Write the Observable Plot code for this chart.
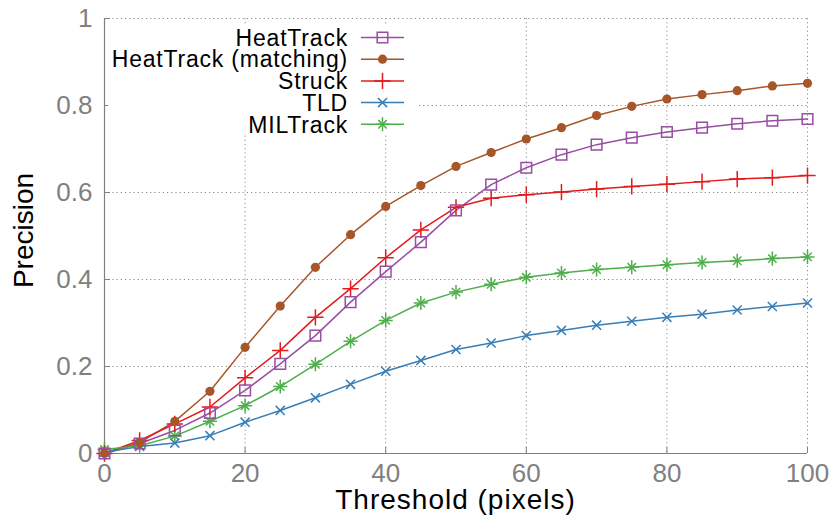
<!DOCTYPE html>
<html>
<head>
<meta charset="utf-8">
<script src="https://cdn.jsdelivr.net/npm/d3@7"></script>
<script src="https://cdn.jsdelivr.net/npm/@observablehq/plot@0.6"></script>
<style>
  html, body { margin: 0; padding: 0; background: white; }
  svg { display: block; }
</style>
</head>
<body>
<div id="chart"></div>
<script>
// ---- data ----
const thresholds = [0, 5, 10, 15, 20, 25, 30, 35, 40, 45, 50, 55, 60, 65, 70, 75, 80, 85, 90, 95, 100];
const seriesNames = ["HeatTrack", "HeatTrack (matching)", "Struck", "TLD", "MILTrack"];
const heatTrack = [0, 0.023, 0.053, 0.093, 0.145, 0.206, 0.271, 0.348, 0.418, 0.486, 0.559, 0.618, 0.657, 0.687, 0.710, 0.726, 0.739, 0.749, 0.758, 0.765, 0.769];
const heatTrackMatching = [0, 0.025, 0.074, 0.143, 0.244, 0.339, 0.428, 0.503, 0.568, 0.616, 0.660, 0.692, 0.723, 0.749, 0.777, 0.798, 0.815, 0.825, 0.834, 0.845, 0.851];
const struck = [0, 0.030, 0.068, 0.107, 0.174, 0.237, 0.313, 0.379, 0.450, 0.514, 0.566, 0.587, 0.595, 0.601, 0.608, 0.614, 0.619, 0.625, 0.631, 0.634, 0.639];
const tld = [0.003, 0.016, 0.024, 0.041, 0.072, 0.099, 0.128, 0.159, 0.189, 0.214, 0.239, 0.254, 0.271, 0.283, 0.295, 0.304, 0.313, 0.320, 0.330, 0.338, 0.346];
const milTrack = [0.009, 0.018, 0.040, 0.074, 0.110, 0.154, 0.205, 0.258, 0.306, 0.346, 0.371, 0.389, 0.405, 0.415, 0.423, 0.428, 0.434, 0.439, 0.443, 0.448, 0.452];
const xTicks = [0, 20, 40, 60, 80, 100];
const yTicks = [0, 0.2, 0.4, 0.6, 0.8, 1];
const xLabel = "Threshold (pixels)";
const yLabel = "Precision";

// ---- styles ----
const colors = ["#984ea3", "#a65628", "#e41a1c", "#377eb8", "#4daf4a"];
const values = [heatTrack, heatTrackMatching, struck, tld, milTrack];
const font = "'Liberation Sans', Arial, Helvetica, sans-serif";
const gray = "#808080";

const rows = seriesNames.flatMap((name, si) =>
  thresholds.map((t, i) => ({series: name, t, v: values[si][i]})));
const of = name => rows.filter(d => d.series === name);

const W = 835, H = 522;
const mL = 104, mR = 28, mT = 18, mB = 69;

const plot = Plot.plot({
  width: W, height: H,
  marginLeft: mL, marginRight: mR, marginTop: mT, marginBottom: mB,
  style: {fontFamily: font, background: "white", overflow: "visible"},
  x: {type: "linear", domain: [0, 100], ticks: xTicks},
  y: {type: "linear", domain: [0, 1], ticks: yTicks},
  marks: [
    Plot.gridX(xTicks, {stroke: "#8a8a8a", strokeOpacity: 1, strokeWidth: 1, strokeDasharray: "1.2,3"}),
    Plot.gridY(yTicks, {stroke: "#8a8a8a", strokeOpacity: 1, strokeWidth: 1, strokeDasharray: "1.2,3"}),
    Plot.axisX(xTicks, {tickSize: 0, tickPadding: 10, fontSize: 26, fill: gray, label: null, tickFormat: d => String(d)}),
    Plot.axisY(yTicks, {tickSize: 0, tickPadding: 12, fontSize: 26, fill: gray, label: null, tickFormat: d => String(+d.toFixed(1))}),
    Plot.axisX(xTicks, {tickSize: -6, tickPadding: 0, stroke: gray, label: null, tickFormat: () => ""}),
    Plot.axisY(yTicks, {tickSize: -6, tickPadding: 0, stroke: gray, label: null, tickFormat: () => ""}),
    Plot.ruleX([0], {stroke: gray, strokeWidth: 1.2}),
    Plot.ruleY([0], {stroke: gray, strokeWidth: 1.2}),
    Plot.line(rows, {x: "t", y: "v", z: "series", stroke: d => colors[seriesNames.indexOf(d.series)], strokeWidth: 1.5}),
    Plot.dot(of(seriesNames[4]), {x: "t", y: "v", symbol: "plus", r: 4.6, stroke: colors[4], strokeWidth: 1.5}),
    Plot.dot(of(seriesNames[4]), {x: "t", y: "v", symbol: "times", r: 3.9, stroke: colors[4], strokeWidth: 1.5}),
    Plot.dot(of(seriesNames[3]), {x: "t", y: "v", symbol: "times", r: 4.2, stroke: colors[3], strokeWidth: 1.5}),
    Plot.dot(of(seriesNames[2]), {x: "t", y: "v", symbol: "plus", r: 5.3, stroke: colors[2], strokeWidth: 1.5}),
    Plot.dot(of(seriesNames[0]), {x: "t", y: "v", symbol: "square", r: 6, stroke: colors[0], fill: "none", strokeWidth: 1.5}),
    Plot.dot(of(seriesNames[1]), {x: "t", y: "v", symbol: "circle", r: 4.6, fill: colors[1], stroke: "none"})
  ]
});

document.getElementById("chart").appendChild(plot);

// ---- titles and legend ----
const svg = d3.select(plot);
const xs = plot.scale("x"), ys = plot.scale("y");
const cx = (xs.apply(0) + xs.apply(100)) / 2;
const cy = (ys.apply(0) + ys.apply(1)) / 2;

svg.append("text")
  .attr("x", cx).attr("y", 509)
  .attr("text-anchor", "middle")
  .style("font-family", font).style("font-size", "28px").style("letter-spacing", "1px")
  .attr("fill", "black").text(xLabel);

svg.append("text")
  .attr("transform", `translate(33,${cy - 5}) rotate(-90)`)
  .attr("text-anchor", "middle")
  .style("font-family", font).style("font-size", "28px")
  .attr("fill", "black").text(yLabel);

const legend = svg.append("g");
legend.append("rect").attr("x", 108).attr("y", 26).attr("width", 308).attr("height", 109).attr("fill", "white");
const symbolTypes = [[d3.symbolSquare], [d3.symbolCircle], [d3.symbolPlus], [d3.symbolTimes], [d3.symbolPlus, d3.symbolTimes]];
const symbolR = [[6], [4.6], [5.3], [4.2], [4.6, 3.9]];
seriesNames.forEach((name, i) => {
  const y = 37.5 + i * 21.7;
  const g = legend.append("g");
  g.append("text")
    .attr("x", 348).attr("y", y).attr("dy", "0.36em")
    .attr("text-anchor", "end")
    .style("font-family", font).style("font-size", "23px").style("letter-spacing", "0.8px")
    .attr("fill", "black").text(name);
  g.append("line").attr("x1", 361).attr("x2", 404).attr("y1", y).attr("y2", y)
    .attr("stroke", colors[i]).attr("stroke-width", 1.5);
  symbolTypes[i].forEach((type, k) => {
    const r = symbolR[i][k];
    const filled = type === d3.symbolCircle;
    g.append("path")
      .attr("transform", `translate(382.5,${y})`)
      .attr("d", d3.symbol().type(type).size(Math.PI * r * r)())
      .attr("fill", filled ? colors[i] : "none")
      .attr("stroke", filled ? "none" : colors[i])
      .attr("stroke-width", 1.5);
  });
});
</script>
</body>
</html>
